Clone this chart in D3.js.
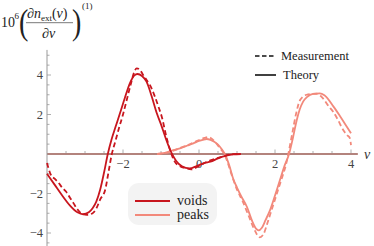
<!DOCTYPE html>
<html>
<head>
<meta charset="utf-8">
<script src="https://cdn.jsdelivr.net/npm/d3@7.9.0/dist/d3.min.js"></script>
<style>
  body { margin: 0; background: #fff; }
  #chart text { font-family: 'Liberation Serif', 'Times New Roman', serif; }
</style>
</head>
<body>
<svg id="chart" width="374" height="246"></svg>
<script>
// voids, theory (solid)
const voidsTheoryX = [-4, -3.8, -3.6, -3.4, -3.2, -3.05, -2.9, -2.8, -2.7, -2.6, -2.5, -2.4, -2.3, -2.2, -2.08, -1.95, -1.82, -1.7, -1.62, -1.5, -1.38, -1.25, -1.11, -1.0, -0.86, -0.72, -0.6, -0.45, -0.25, -0.05, 0.15, 0.3, 0.5, 0.72, 0.9, 1.1];
const voidsTheoryY = [-1.0, -1.55, -2.1, -2.6, -2.95, -3.05, -2.95, -2.75, -2.4, -1.8, -0.95, 0.0, 0.75, 1.35, 2.06, 2.85, 3.58, 3.98, 4.05, 3.95, 3.66, 2.95, 2.06, 1.5, 0.71, 0.04, -0.35, -0.62, -0.73, -0.6, -0.45, -0.39, -0.22, -0.08, -0.02, 0];

// voids, measurement (dashed)
const voidsMeasX = [-4, -3.9, -3.8, -3.7, -3.6, -3.5, -3.4, -3.3, -3.2, -3.1, -2.95, -2.8, -2.7, -2.6, -2.47, -2.38, -2.3, -2.2, -2.1, -2.0, -1.9, -1.8, -1.7, -1.64, -1.55, -1.47, -1.38, -1.29, -1.16, -1.05, -0.98, -0.86, -0.76, -0.65, -0.5, -0.35, -0.2, -0.05, 0.1, 0.3, 0.5, 0.7, 0.9, 1.1];
const voidsMeasY = [-0.45, -1.05, -1.25, -1.45, -1.7, -1.9, -2.2, -2.5, -2.8, -3.0, -3.08, -3.0, -2.75, -2.3, -1.82, -0.9, -0.05, 0.65, 1.35, 2.0, 2.75, 3.5, 4.17, 4.34, 4.25, 4.0, 3.75, 3.49, 2.9, 2.3, 1.89, 0.88, 0.2, -0.35, -0.62, -0.72, -0.78, -0.66, -0.5, -0.32, -0.2, -0.08, -0.01, 0];

// peaks, theory (solid)
const peaksTheoryX = [-1.1, -0.9, -0.7, -0.5, -0.3, -0.15, 0.0, 0.1, 0.2, 0.3, 0.4, 0.5, 0.6, 0.68, 0.8, 0.9, 1.0, 1.1, 1.26, 1.4, 1.5, 1.57, 1.65, 1.75, 1.87, 2.0, 2.13, 2.25, 2.37, 2.47, 2.57, 2.65, 2.74, 2.85, 3.0, 3.18, 3.3, 3.54, 3.7, 3.89, 4.0];
const peaksTheoryY = [0, 0.06, 0.18, 0.29, 0.43, 0.54, 0.66, 0.72, 0.76, 0.72, 0.62, 0.48, 0.24, 0.0, -0.6, -1.25, -1.7, -2.1, -2.67, -3.4, -3.78, -3.87, -3.75, -3.35, -2.84, -2.1, -1.32, -0.6, 0.0, 0.8, 1.7, 2.25, 2.65, 2.9, 3.04, 3.07, 2.97, 2.4, 1.95, 1.38, 1.05];

// peaks, measurement (dashed)
const peaksMeasX = [-1.1, -0.9, -0.7, -0.5, -0.3, -0.1, 0.05, 0.15, 0.24, 0.35, 0.45, 0.55, 0.65, 0.75, 0.85, 1.0, 1.15, 1.3, 1.45, 1.6, 1.7, 1.8, 1.9, 2.0, 2.15, 2.3, 2.35, 2.45, 2.55, 2.66, 2.83, 2.97, 3.1, 3.27, 3.4, 3.53, 3.65, 3.8, 3.9, 3.97, 4.0];
const peaksMeasY = [0, 0.05, 0.15, 0.3, 0.45, 0.62, 0.75, 0.82, 0.86, 0.75, 0.55, 0.3, 0.05, -0.4, -1.0, -1.8, -2.4, -3.1, -3.8, -4.22, -4.05, -3.5, -2.9, -2.3, -1.4, -0.45, 0.0, 1.0, 2.0, 2.73, 3.0, 3.04, 3.05, 2.8, 2.45, 2.14, 1.75, 1.2, 0.95, 0.8, 0.45];

const xTicks = [-2, 0, 2, 4];
const yTicks = [-4, -2, 2, 4];
const legendKinds = ['Measurement', 'Theory'];
const legendGroups = ['voids', 'peaks'];

const voidsColor = '#c8161e';
const peaksColor = '#f2897b';

const svg = d3.select('#chart');
const x = d3.scaleLinear().domain([-4, 4]).range([47, 351]);
const y = d3.scaleLinear().domain([0, 4]).range([154, 75]);

// axes (the flat parts of both curves lie on the x axis, giving it a dark red-brown tone)
const axisColor = '#999';
svg.append('line')
  .attr('x1', x(-4)).attr('x2', x(4.18))
  .attr('y1', y(0)).attr('y2', y(0))
  .attr('stroke', '#9a5a52').attr('stroke-width', 1.6);
svg.append('line')
  .attr('x1', x(-4)).attr('x2', x(-4))
  .attr('y1', y(5.27)).attr('y2', 246)
  .attr('stroke', axisColor).attr('stroke-width', 1);

// x ticks (minor every 0.5)
d3.range(-3.5, 4.01, 0.5).forEach((t) => {
  const major = Math.abs(t % 2) < 1e-6;
  svg.append('line')
    .attr('x1', x(t)).attr('x2', x(t))
    .attr('y1', y(0) - 0.8).attr('y2', y(0) - (major ? 4.5 : 3))
    .attr('stroke', axisColor).attr('stroke-width', 0.8);
});
// y ticks
d3.range(-4.5, 5.01, 0.5).forEach((t) => {
  if (Math.abs(t) < 1e-6) return;
  const major = Math.abs(t % 2) < 1e-6;
  svg.append('line')
    .attr('x1', x(-4)).attr('x2', x(-4) + (major ? 4 : 2.5))
    .attr('y1', y(t)).attr('y2', y(t))
    .attr('stroke', axisColor).attr('stroke-width', 0.8);
});

const fmt = (d) => (d < 0 ? '\u2212' + Math.abs(d) : String(d));
svg.selectAll('.xt').data(xTicks).enter().append('text')
  .attr('x', (d) => x(d)).attr('y', 168)
  .attr('text-anchor', 'middle').attr('font-size', 12.5).attr('fill', '#444')
  .text(fmt);
svg.selectAll('.yt').data(yTicks).enter().append('text')
  .attr('x', 43).attr('y', (d) => y(d) + 4)
  .attr('text-anchor', 'end').attr('font-size', 12.5).attr('fill', '#444')
  .text(fmt);

svg.append('text').attr('x', 364).attr('y', 159)
  .attr('font-size', 14).attr('font-style', 'italic').attr('fill', '#333').text('\u03bd');

// y label
const lab = svg.append('g').attr('fill', '#222');
lab.append('text').attr('x', 1).attr('y', 27).attr('font-size', 14).text('10');
lab.append('text').attr('x', 14.5).attr('y', 19).attr('font-size', 9).text('6');
lab.append('text').attr('x', 19).attr('y', 33).attr('font-size', 28)
  .attr('transform', 'translate(0,-9) scale(1,1.3)').text('(');
lab.append('text').attr('x', 72).attr('y', 33).attr('font-size', 28)
  .attr('transform', 'translate(0,-9) scale(1,1.3)').text(')');
const num = lab.append('text').attr('x', 27).attr('y', 18).attr('font-size', 14);
num.append('tspan').text('\u2202');
num.append('tspan').attr('font-style', 'italic').text('n');
num.append('tspan').attr('font-size', 9).attr('dy', 3).text('ext');
num.append('tspan').attr('dy', -3).text('(');
num.append('tspan').attr('font-style', 'italic').text('\u03bd');
num.append('tspan').text(')');
lab.append('line').attr('x1', 26).attr('x2', 73).attr('y1', 22.7).attr('y2', 22.7)
  .attr('stroke', '#555').attr('stroke-width', 0.8);
const den = lab.append('text').attr('x', 42).attr('y', 38).attr('font-size', 14);
den.append('tspan').text('\u2202');
den.append('tspan').attr('font-style', 'italic').text('\u03bd');
lab.append('text').attr('x', 82).attr('y', 9).attr('font-size', 9).text('(1)');

// curves
const line = d3.line().x((d) => x(d[0])).y((d) => y(d[1])).curve(d3.curveMonotoneX);
const series = [
  { xs: peaksTheoryX, ys: peaksTheoryY, color: peaksColor, dash: null },
  { xs: peaksMeasX, ys: peaksMeasY, color: peaksColor, dash: '5,3' },
  { xs: voidsTheoryX, ys: voidsTheoryY, color: voidsColor, dash: null },
  { xs: voidsMeasX, ys: voidsMeasY, color: voidsColor, dash: '5,3' },
];
series.forEach((s) => {
  svg.append('path')
    .attr('d', line(s.xs.map((v, i) => [v, s.ys[i]])))
    .attr('fill', 'none')
    .attr('stroke', s.color)
    .attr('stroke-width', 1.8)
    .attr('stroke-dasharray', s.dash);
});

// legend top right
legendKinds.forEach((k, i) => {
  const ly = 56 + i * 19;
  svg.append('line').attr('x1', 255).attr('x2', 276).attr('y1', ly).attr('y2', ly)
    .attr('stroke', '#111').attr('stroke-width', 1.6)
    .attr('stroke-dasharray', i === 0 ? '4.5,2.5' : null);
  svg.append('text').attr('x', i === 0 ? 281 : 283).attr('y', ly + 3.5)
    .attr('font-size', 12.5).attr('fill', '#222').text(k);
});

// legend bottom
svg.append('rect').attr('x', 128).attr('y', 183).attr('width', 89).attr('height', 42)
  .attr('rx', 11).attr('fill', '#f3f3f3');
legendGroups.forEach((g, i) => {
  const ly = 201 + i * 14;
  svg.append('line').attr('x1', 135).attr('x2', 170).attr('y1', ly).attr('y2', ly)
    .attr('stroke', i === 0 ? voidsColor : peaksColor).attr('stroke-width', 1.8);
  svg.append('text').attr('x', 177).attr('y', ly + 3.5)
    .attr('font-size', 14).attr('fill', '#222').text(g);
});
</script>
</body>
</html>
